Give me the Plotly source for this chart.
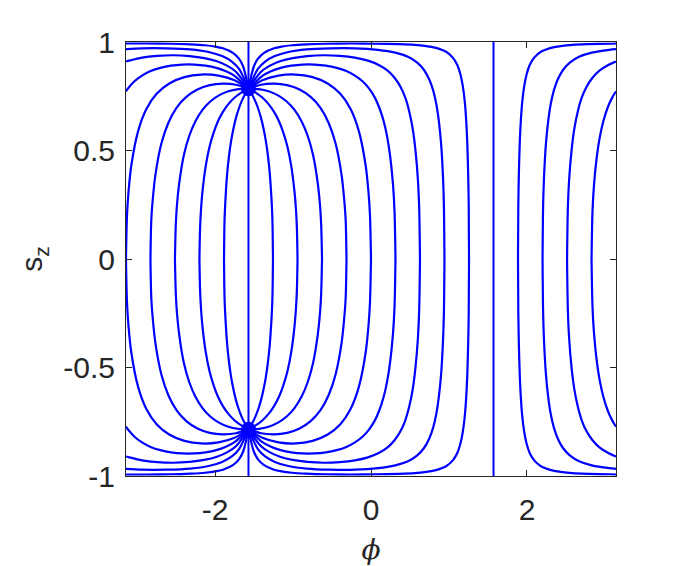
import plotly.graph_objects as go

# ---- data: upper arcs (s_z >= 0), each from the fixed point outward ----
# curves seeded at s_z = 0, phi = k*pi/10 ; lower arcs are the mirror image in s_z (typed out)

phi_k0 = [-1.571, -1.393, -1.187, -0.966, -0.749, -0.555, -0.393, -0.260, -0.154, -0.069, -0.033, -0.013, 0.000]
sz_k0 = [0.785, 0.824, 0.845, 0.850, 0.838, 0.809, 0.761, 0.690, 0.587, 0.432, 0.311, 0.199, 0.000]
sz_k0_lo = [-0.785, -0.824, -0.845, -0.850, -0.838, -0.809, -0.761, -0.690, -0.587, -0.432, -0.311, -0.199, 0.000]

phi_k1 = [-1.571, -1.392, -1.282, -1.158, -1.021, -0.875, -0.725, -0.578, -0.441, -0.316, -0.206, -0.109, -0.026, 0.046, 0.107, 0.161, 0.207, 0.247, 0.283, 0.302, 0.314]
sz_k1 = [0.785, 0.844, 0.865, 0.881, 0.891, 0.896, 0.896, 0.891, 0.881, 0.866, 0.845, 0.819, 0.786, 0.746, 0.697, 0.637, 0.564, 0.470, 0.339, 0.217, 0.000]
sz_k1_lo = [-0.785, -0.844, -0.865, -0.881, -0.891, -0.896, -0.896, -0.891, -0.881, -0.866, -0.845, -0.819, -0.786, -0.746, -0.697, -0.637, -0.564, -0.470, -0.339, -0.217, 0.000]

phi_k2 = [-1.571, -1.410, -1.301, -1.167, -1.004, -0.815, -0.608, -0.400, -0.207, -0.040, 0.099, 0.213, 0.304, 0.379, 0.441, 0.491, 0.534, 0.570, 0.602, 0.618, 0.628]
sz_k2 = [0.785, 0.863, 0.890, 0.911, 0.926, 0.935, 0.939, 0.936, 0.928, 0.914, 0.894, 0.868, 0.834, 0.793, 0.742, 0.679, 0.602, 0.502, 0.362, 0.232, 0.000]
sz_k2_lo = [-0.785, -0.863, -0.890, -0.911, -0.926, -0.935, -0.939, -0.936, -0.928, -0.914, -0.894, -0.868, -0.834, -0.793, -0.742, -0.679, -0.602, -0.502, -0.362, -0.232, 0.000]

phi_k3 = [-1.571, -1.448, -1.357, -1.233, -1.060, -0.826, -0.528, -0.203, 0.087, 0.311, 0.474, 0.593, 0.680, 0.746, 0.798, 0.839, 0.872, 0.900, 0.923, 0.935, 0.942]
sz_k3 = [0.785, 0.877, 0.910, 0.935, 0.954, 0.966, 0.971, 0.971, 0.964, 0.951, 0.932, 0.905, 0.871, 0.828, 0.776, 0.711, 0.630, 0.526, 0.380, 0.243, 0.000]
sz_k3_lo = [-0.785, -0.877, -0.910, -0.935, -0.954, -0.966, -0.971, -0.971, -0.964, -0.951, -0.932, -0.905, -0.871, -0.828, -0.776, -0.711, -0.630, -0.526, -0.380, -0.243, 0.000]

phi_k4 = [-1.571, -1.504, -1.451, -1.371, -1.243, -1.146, -1.013, -0.828, -0.575, -0.260, 0.068, 0.348, 0.559, 0.711, 0.820, 0.963, 1.049, 1.107, 1.147, 1.177, 1.201, 1.219, 1.234, 1.246, 1.253, 1.257]
sz_k4 = [0.785, 0.886, 0.922, 0.950, 0.971, 0.979, 0.985, 0.989, 0.992, 0.993, 0.992, 0.990, 0.987, 0.981, 0.974, 0.955, 0.928, 0.894, 0.850, 0.797, 0.730, 0.648, 0.541, 0.391, 0.250, 0.000]
sz_k4_lo = [-0.785, -0.886, -0.922, -0.950, -0.971, -0.979, -0.985, -0.989, -0.992, -0.993, -0.992, -0.990, -0.987, -0.981, -0.974, -0.955, -0.928, -0.894, -0.850, -0.797, -0.730, -0.648, -0.541, -0.391, -0.250, 0.000]

phi_km1 = [-1.571, -1.411, -1.242, -1.075, -0.916, -0.774, -0.650, -0.544, -0.454, -0.378, -0.345, -0.325, -0.314]
sz_km1 = [0.785, 0.803, 0.808, 0.801, 0.781, 0.747, 0.698, 0.628, 0.532, 0.389, 0.280, 0.181, 0.000]
sz_km1_lo = [-0.785, -0.803, -0.808, -0.801, -0.781, -0.747, -0.698, -0.628, -0.532, -0.389, -0.280, -0.181, 0.000]

phi_km2 = [-1.571, -1.440, -1.313, -1.192, -1.081, -0.981, -0.891, -0.812, -0.742, -0.682, -0.654, -0.639, -0.628]
sz_km2 = [0.785, 0.783, 0.773, 0.754, 0.726, 0.687, 0.635, 0.568, 0.478, 0.347, 0.249, 0.159, 0.000]
sz_km2_lo = [-0.785, -0.783, -0.773, -0.754, -0.726, -0.687, -0.635, -0.568, -0.478, -0.347, -0.249, -0.159, 0.000]

phi_km3 = [-1.571, -1.479, -1.394, -1.316, -1.245, -1.180, -1.123, -1.070, -1.023, -0.981, -0.961, -0.950, -0.942]
sz_km3 = [0.785, 0.767, 0.744, 0.715, 0.679, 0.635, 0.581, 0.515, 0.429, 0.310, 0.221, 0.141, 0.000]
sz_km3_lo = [-0.785, -0.767, -0.744, -0.715, -0.679, -0.635, -0.581, -0.515, -0.429, -0.310, -0.221, -0.141, 0.000]

phi_km4 = [-1.571, -1.524, -1.481, -1.443, -1.408, -1.377, -1.348, -1.322, -1.298, -1.277, -1.266, -1.261, -1.257]
sz_km4 = [0.785, 0.757, 0.725, 0.689, 0.647, 0.599, 0.543, 0.477, 0.395, 0.283, 0.201, 0.127, 0.000]
sz_km4_lo = [-0.785, -0.757, -0.725, -0.689, -0.647, -0.599, -0.543, -0.477, -0.395, -0.283, -0.201, -0.127, 0.000]

phi_km6 = [-1.571, -1.618, -1.661, -1.699, -1.734, -1.765, -1.794, -1.820, -1.844, -1.865, -1.876, -1.881, -1.885]
phi_km7 = [-1.571, -1.663, -1.748, -1.826, -1.897, -1.962, -2.019, -2.072, -2.119, -2.161, -2.181, -2.192, -2.200]
phi_km8 = [-1.571, -1.702, -1.829, -1.950, -2.061, -2.161, -2.251, -2.330, -2.400, -2.460, -2.488, -2.503, -2.514]
phi_km9 = [-1.571, -1.731, -1.900, -2.067, -2.226, -2.368, -2.492, -2.598, -2.688, -2.764, -2.797, -2.817, -2.828]
phi_km10 = [-1.571, -1.749, -1.955, -2.176, -2.393, -2.587, -2.749, -2.882, -2.988, -3.073, -3.109, -3.129, -3.142]

# curves k = 6..9 wrap through phi = +-pi: a left piece (fixed point -> left edge) and a right piece (right edge -> s_z = 0)
phi_k9_left = [-1.571, -1.750, -1.860, -1.984, -2.121, -2.267, -2.417, -2.564, -2.701, -2.826, -2.936, -3.033, -3.116, -3.142]
sz_k9_left = [0.785, 0.844, 0.865, 0.881, 0.891, 0.896, 0.896, 0.891, 0.881, 0.866, 0.845, 0.819, 0.786, 0.773]
sz_k9_left_lo = [-0.785, -0.844, -0.865, -0.881, -0.891, -0.896, -0.896, -0.891, -0.881, -0.866, -0.845, -0.819, -0.786, -0.773]
phi_k9_right = [3.142, 3.096, 3.034, 2.981, 2.935, 2.895, 2.859, 2.840, 2.828]
sz_k9_right = [0.773, 0.746, 0.697, 0.637, 0.564, 0.470, 0.339, 0.217, 0.000]
sz_k9_right_lo = [-0.773, -0.746, -0.697, -0.637, -0.564, -0.470, -0.339, -0.217, 0.000]

phi_k8_left = [-1.571, -1.732, -1.841, -1.975, -2.138, -2.327, -2.534, -2.742, -2.935, -3.102, -3.142]
sz_k8_left = [0.785, 0.863, 0.890, 0.911, 0.926, 0.935, 0.939, 0.936, 0.928, 0.914, 0.910]
sz_k8_left_lo = [-0.785, -0.863, -0.890, -0.911, -0.926, -0.935, -0.939, -0.936, -0.928, -0.914, -0.910]
phi_k8_right = [3.142, 3.043, 2.929, 2.838, 2.763, 2.701, 2.651, 2.608, 2.572, 2.540, 2.524, 2.514]
sz_k8_right = [0.910, 0.894, 0.868, 0.834, 0.793, 0.742, 0.679, 0.602, 0.502, 0.362, 0.232, 0.000]
sz_k8_right_lo = [-0.910, -0.894, -0.868, -0.834, -0.793, -0.742, -0.679, -0.602, -0.502, -0.362, -0.232, 0.000]

phi_k7_left = [-1.571, -1.694, -1.785, -1.909, -2.082, -2.316, -2.614, -2.939, -3.142]
sz_k7_left = [0.785, 0.877, 0.910, 0.935, 0.954, 0.966, 0.971, 0.971, 0.967]
sz_k7_left_lo = [-0.785, -0.877, -0.910, -0.935, -0.954, -0.966, -0.971, -0.971, -0.967]
phi_k7_right = [3.142, 3.055, 2.831, 2.668, 2.549, 2.462, 2.396, 2.344, 2.303, 2.270, 2.242, 2.219, 2.207, 2.200]
sz_k7_right = [0.967, 0.964, 0.951, 0.932, 0.905, 0.871, 0.828, 0.776, 0.711, 0.630, 0.526, 0.380, 0.243, 0.000]
sz_k7_right_lo = [-0.967, -0.964, -0.951, -0.932, -0.905, -0.871, -0.828, -0.776, -0.711, -0.630, -0.526, -0.380, -0.243, 0.000]

phi_k6_left = [-1.571, -1.638, -1.691, -1.771, -1.899, -1.996, -2.129, -2.314, -2.567, -2.882, -3.142]
sz_k6_left = [0.785, 0.886, 0.922, 0.950, 0.971, 0.979, 0.985, 0.989, 0.992, 0.993, 0.993]
sz_k6_left_lo = [-0.785, -0.886, -0.922, -0.950, -0.971, -0.979, -0.985, -0.989, -0.992, -0.993, -0.993]
phi_k6_right = [3.142, 3.074, 2.794, 2.583, 2.431, 2.322, 2.179, 2.093, 2.035, 1.995, 1.965, 1.941, 1.923, 1.908, 1.896, 1.889, 1.885]
sz_k6_right = [0.993, 0.992, 0.990, 0.987, 0.981, 0.974, 0.955, 0.928, 0.894, 0.850, 0.797, 0.730, 0.648, 0.541, 0.391, 0.250, 0.000]
sz_k6_right_lo = [-0.993, -0.992, -0.990, -0.987, -0.981, -0.974, -0.955, -0.928, -0.894, -0.850, -0.797, -0.730, -0.648, -0.541, -0.391, -0.250, 0.000]

# invariant vertical lines
phi_line_left = [-1.571, -1.571]
phi_line_right = [1.571, 1.571]
sz_line = [-1.0, 1.0]

# the two fixed points where all curves meet
phi_fixed = [-1.571, -1.571]
sz_fixed = [0.785, -0.785]

x_tick_vals = [-2, 0, 2]
x_tick_text = ["-2", "0", "2"]
y_tick_vals = [-1, -0.5, 0, 0.5, 1]
y_tick_text = ["-1", "-0.5", "0", "0.5", "1"]

pieces = [
    (phi_k0, sz_k0, sz_k0_lo), (phi_k1, sz_k1, sz_k1_lo), (phi_k2, sz_k2, sz_k2_lo),
    (phi_k3, sz_k3, sz_k3_lo), (phi_k4, sz_k4, sz_k4_lo),
    (phi_km1, sz_km1, sz_km1_lo), (phi_km2, sz_km2, sz_km2_lo),
    (phi_km3, sz_km3, sz_km3_lo), (phi_km4, sz_km4, sz_km4_lo),
    (phi_km6, sz_km4, sz_km4_lo), (phi_km7, sz_km3, sz_km3_lo),
    (phi_km8, sz_km2, sz_km2_lo), (phi_km9, sz_km1, sz_km1_lo),
    (phi_km10, sz_k0, sz_k0_lo),
    (phi_k9_left, sz_k9_left, sz_k9_left_lo), (phi_k9_right, sz_k9_right, sz_k9_right_lo),
    (phi_k8_left, sz_k8_left, sz_k8_left_lo), (phi_k8_right, sz_k8_right, sz_k8_right_lo),
    (phi_k7_left, sz_k7_left, sz_k7_left_lo), (phi_k7_right, sz_k7_right, sz_k7_right_lo),
    (phi_k6_left, sz_k6_left, sz_k6_left_lo), (phi_k6_right, sz_k6_right, sz_k6_right_lo),
]

BLUE = "#0000ff"
AX = "#262626"
fig = go.Figure()
line_style = dict(color=BLUE, width=2.2, shape="spline", smoothing=0.8)
for phi, up, lo in pieces:
    fig.add_trace(go.Scatter(x=phi, y=up, mode="lines", line=line_style, hoverinfo="skip"))
    fig.add_trace(go.Scatter(x=phi, y=lo, mode="lines", line=line_style, hoverinfo="skip"))
for phi in (phi_line_left, phi_line_right):
    fig.add_trace(go.Scatter(x=phi, y=sz_line, mode="lines",
                             line=dict(color=BLUE, width=2), hoverinfo="skip"))
fig.add_trace(go.Scatter(x=phi_fixed, y=sz_fixed, mode="markers",
                         marker=dict(color=BLUE, size=15, line=dict(width=0)), hoverinfo="skip"))

tick_font = dict(family="Liberation Sans, Arial, Helvetica, sans-serif", size=30, color=AX)
axis_common = dict(showline=True, linecolor=AX, linewidth=1, mirror="ticks",
                   ticks="inside", ticklen=6, tickwidth=1, tickcolor=AX,
                   showgrid=False, zeroline=False, tickfont=tick_font, automargin=False)

# the page adds an 8 px body margin, so the figure is 8 px smaller and the margins shifted
fig.update_layout(
    width=672, height=558,
    margin=dict(l=118, r=64, t=34, b=90),
    paper_bgcolor="white", plot_bgcolor="white",
    showlegend=False,
    xaxis=dict(range=[-3.1416, 3.1416], tickvals=x_tick_vals, ticktext=x_tick_text,
               ticklabelstandoff=7,
               title=dict(text="<i>ϕ</i>", standoff=15,
                          font=dict(family="DejaVu Serif, Liberation Serif, serif", size=28, color=AX)),
               **axis_common),
    yaxis=dict(range=[-1, 1], tickvals=y_tick_vals, ticktext=y_tick_text,
               ticklabelstandoff=4,
               title=dict(text="s<sub>z</sub>", standoff=11,
                          font=dict(family="Liberation Sans, Arial, sans-serif", size=30, color=AX)),
               **axis_common),
)

fig.write_html("out.html")
